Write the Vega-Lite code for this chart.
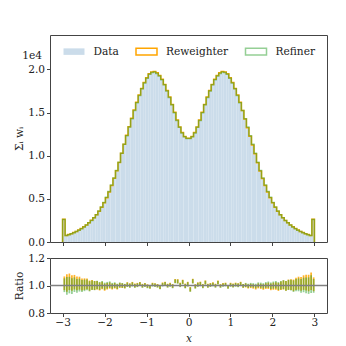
{
 "$schema": "https://vega.github.io/schema/vega-lite/v6.json",
 "background": "white",
 "padding": {"left": 14, "top": 34, "right": 18, "bottom": 5},
 "bounds": "flush",
 "spacing": 16,
 "config": {
  "font": "DejaVu Serif",
  "view": {"stroke": "#444", "strokeWidth": 1},
  "axis": {"domain": false, "grid": false, "tickColor": "#444", "tickSize": 3.5, "labelFont": "DejaVu Serif", "labelFontSize": 10.6, "labelColor": "#222", "titleFont": "DejaVu Serif", "titleFontSize": 10.6, "titleFontWeight": "normal", "titleColor": "#222", "labelPadding": 2, "labelOverlap": false, "labelFlush": false}
 },
 "datasets": {"h": [
  {"k":-1,"lo":-3,"rw":0,"rf":0},
  {"k":0,"lo":-3,"hi":-2.94,"d":0.262,"rw":0.265,"rf":0.261,"rl":0.966,"rh":1.066,"fl":0.952,"fh":1.052},
  {"k":1,"lo":-2.94,"hi":-2.88,"d":0.074,"rw":0.076,"rf":0.074,"rl":0.954,"rh":1.082,"fl":0.933,"fh":1.061},
  {"k":2,"lo":-2.88,"hi":-2.82,"d":0.084,"rw":0.086,"rf":0.084,"rl":0.967,"rh":1.087,"fl":0.943,"fh":1.063},
  {"k":3,"lo":-2.82,"hi":-2.76,"d":0.095,"rw":0.097,"rf":0.095,"rl":0.961,"rh":1.075,"fl":0.938,"fh":1.052},
  {"k":4,"lo":-2.76,"hi":-2.70,"d":0.107,"rw":0.109,"rf":0.107,"rl":0.971,"rh":1.077,"fl":0.953,"fh":1.059},
  {"k":5,"lo":-2.70,"hi":-2.64,"d":0.121,"rw":0.123,"rf":0.121,"rl":0.965,"rh":1.065,"fl":0.948,"fh":1.048},
  {"k":6,"lo":-2.64,"hi":-2.58,"d":0.137,"rw":0.139,"rf":0.137,"rl":0.970,"rh":1.064,"fl":0.956,"fh":1.050},
  {"k":7,"lo":-2.58,"hi":-2.52,"d":0.155,"rw":0.157,"rf":0.155,"rl":0.963,"rh":1.051,"fl":0.952,"fh":1.040},
  {"k":8,"lo":-2.52,"hi":-2.46,"d":0.175,"rw":0.177,"rf":0.175,"rl":0.968,"rh":1.052,"fl":0.959,"fh":1.043},
  {"k":9,"lo":-2.46,"hi":-2.40,"d":0.197,"rw":0.198,"rf":0.197,"rl":0.973,"rh":1.051,"fl":0.966,"fh":1.044},
  {"k":10,"lo":-2.40,"hi":-2.34,"d":0.222,"rw":0.223,"rf":0.222,"rl":0.962,"rh":1.036,"fl":0.957,"fh":1.031},
  {"k":11,"lo":-2.34,"hi":-2.28,"d":0.250,"rw":0.251,"rf":0.250,"rl":0.970,"rh":1.040,"fl":0.967,"fh":1.037},
  {"k":12,"lo":-2.28,"hi":-2.22,"d":0.281,"rw":0.281,"rf":0.281,"rl":0.967,"rh":1.033,"fl":0.966,"fh":1.032},
  {"k":13,"lo":-2.22,"hi":-2.16,"d":0.317,"rw":0.316,"rf":0.317,"rl":0.971,"rh":1.033,"fl":0.973,"fh":1.035},
  {"k":14,"lo":-2.16,"hi":-2.10,"d":0.358,"rw":0.357,"rf":0.358,"rl":0.964,"rh":1.022,"fl":0.968,"fh":1.026},
  {"k":15,"lo":-2.10,"hi":-2.04,"d":0.405,"rw":0.403,"rf":0.405,"rl":0.973,"rh":1.027,"fl":0.979,"fh":1.033},
  {"k":16,"lo":-2.04,"hi":-1.98,"d":0.458,"rw":0.455,"rf":0.458,"rl":0.962,"rh":1.014,"fl":0.969,"fh":1.021},
  {"k":17,"lo":-1.98,"hi":-1.92,"d":0.518,"rw":0.514,"rf":0.518,"rl":0.971,"rh":1.019,"fl":0.978,"fh":1.026},
  {"k":18,"lo":-1.92,"hi":-1.86,"d":0.585,"rw":0.581,"rf":0.585,"rl":0.977,"rh":1.023,"fl":0.984,"fh":1.030},
  {"k":19,"lo":-1.86,"hi":-1.80,"d":0.660,"rw":0.656,"rf":0.660,"rl":0.971,"rh":1.013,"fl":0.977,"fh":1.019},
  {"k":20,"lo":-1.80,"hi":-1.74,"d":0.742,"rw":0.738,"rf":0.742,"rl":0.978,"rh":1.018,"fl":0.983,"fh":1.023},
  {"k":21,"lo":-1.74,"hi":-1.68,"d":0.830,"rw":0.827,"rf":0.830,"rl":0.971,"rh":1.009,"fl":0.975,"fh":1.013},
  {"k":22,"lo":-1.68,"hi":-1.62,"d":0.925,"rw":0.922,"rf":0.925,"rl":0.983,"rh":1.019,"fl":0.986,"fh":1.022},
  {"k":23,"lo":-1.62,"hi":-1.56,"d":1.030,"rw":1.028,"rf":1.030,"rl":0.982,"rh":1.016,"fl":0.984,"fh":1.018},
  {"k":24,"lo":-1.56,"hi":-1.50,"d":1.134,"rw":1.133,"rf":1.134,"rl":0.979,"rh":1.011,"fl":0.980,"fh":1.012},
  {"k":25,"lo":-1.50,"hi":-1.44,"d":1.233,"rw":1.237,"rf":1.233,"rl":0.992,"rh":1.024,"fl":0.989,"fh":1.021},
  {"k":26,"lo":-1.44,"hi":-1.38,"d":1.332,"rw":1.336,"rf":1.332,"rl":0.986,"rh":1.016,"fl":0.983,"fh":1.013},
  {"k":27,"lo":-1.38,"hi":-1.32,"d":1.430,"rw":1.434,"rf":1.430,"rl":0.996,"rh":1.026,"fl":0.993,"fh":1.023},
  {"k":28,"lo":-1.32,"hi":-1.26,"d":1.525,"rw":1.530,"rf":1.525,"rl":0.986,"rh":1.014,"fl":0.983,"fh":1.011},
  {"k":29,"lo":-1.26,"hi":-1.20,"d":1.615,"rw":1.620,"rf":1.615,"rl":0.991,"rh":1.019,"fl":0.988,"fh":1.016},
  {"k":30,"lo":-1.20,"hi":-1.14,"d":1.700,"rw":1.705,"rf":1.700,"rl":1.000,"rh":1.026,"fl":0.997,"fh":1.023},
  {"k":31,"lo":-1.14,"hi":-1.08,"d":1.776,"rw":1.781,"rf":1.776,"rl":0.986,"rh":1.012,"fl":0.983,"fh":1.009},
  {"k":32,"lo":-1.08,"hi":-1.02,"d":1.843,"rw":1.849,"rf":1.843,"rl":0.993,"rh":1.019,"fl":0.990,"fh":1.016},
  {"k":33,"lo":-1.02,"hi":-0.96,"d":1.898,"rw":1.904,"rf":1.898,"rl":0.983,"rh":1.009,"fl":0.980,"fh":1.006},
  {"k":34,"lo":-0.96,"hi":-0.90,"d":1.945,"rw":1.951,"rf":1.945,"rl":0.979,"rh":1.003,"fl":0.976,"fh":1.000},
  {"k":35,"lo":-0.90,"hi":-0.84,"d":1.966,"rw":1.972,"rf":1.966,"rl":0.996,"rh":1.020,"fl":0.993,"fh":1.017},
  {"k":36,"lo":-0.84,"hi":-0.78,"d":1.970,"rw":1.976,"rf":1.970,"rl":0.993,"rh":1.017,"fl":0.990,"fh":1.014},
  {"k":37,"lo":-0.78,"hi":-0.72,"d":1.955,"rw":1.961,"rf":1.955,"rl":0.987,"rh":1.011,"fl":0.984,"fh":1.008},
  {"k":38,"lo":-0.72,"hi":-0.66,"d":1.925,"rw":1.931,"rf":1.925,"rl":0.975,"rh":1.001,"fl":0.972,"fh":0.998},
  {"k":39,"lo":-0.66,"hi":-0.60,"d":1.880,"rw":1.886,"rf":1.880,"rl":0.996,"rh":1.022,"fl":0.993,"fh":1.019},
  {"k":40,"lo":-0.60,"hi":-0.54,"d":1.822,"rw":1.827,"rf":1.822,"rl":1.002,"rh":1.028,"fl":0.999,"fh":1.025},
  {"k":41,"lo":-0.54,"hi":-0.48,"d":1.752,"rw":1.757,"rf":1.752,"rl":0.987,"rh":1.013,"fl":0.984,"fh":1.010},
  {"k":42,"lo":-0.48,"hi":-0.42,"d":1.675,"rw":1.680,"rf":1.675,"rl":0.994,"rh":1.020,"fl":0.991,"fh":1.017},
  {"k":43,"lo":-0.42,"hi":-0.36,"d":1.590,"rw":1.595,"rf":1.590,"rl":0.983,"rh":1.011,"fl":0.980,"fh":1.008},
  {"k":44,"lo":-0.36,"hi":-0.30,"d":1.500,"rw":1.505,"rf":1.500,"rl":1.019,"rh":1.047,"fl":1.016,"fh":1.044},
  {"k":45,"lo":-0.30,"hi":-0.24,"d":1.410,"rw":1.414,"rf":1.410,"rl":1.016,"rh":1.046,"fl":1.013,"fh":1.043},
  {"k":46,"lo":-0.24,"hi":-0.18,"d":1.330,"rw":1.334,"rf":1.330,"rl":0.991,"rh":1.021,"fl":0.988,"fh":1.018},
  {"k":47,"lo":-0.18,"hi":-0.12,"d":1.265,"rw":1.269,"rf":1.265,"rl":1.012,"rh":1.042,"fl":1.009,"fh":1.039},
  {"k":48,"lo":-0.12,"hi":-0.06,"d":1.220,"rw":1.224,"rf":1.220,"rl":0.982,"rh":1.014,"fl":0.979,"fh":1.011},
  {"k":49,"lo":-0.06,"hi":0,"d":1.200,"rw":1.204,"rf":1.200,"rl":0.995,"rh":1.027,"fl":0.992,"fh":1.024},
  {"k":50,"lo":0,"hi":0.06,"d":1.200,"rw":1.204,"rf":1.200,"rl":0.957,"rh":0.989,"fl":0.954,"fh":0.986},
  {"k":51,"lo":0.06,"hi":0.12,"d":1.220,"rw":1.224,"rf":1.220,"rl":1.017,"rh":1.049,"fl":1.014,"fh":1.046},
  {"k":52,"lo":0.12,"hi":0.18,"d":1.265,"rw":1.269,"rf":1.265,"rl":0.980,"rh":1.010,"fl":0.977,"fh":1.007},
  {"k":53,"lo":0.18,"hi":0.24,"d":1.330,"rw":1.334,"rf":1.330,"rl":0.993,"rh":1.023,"fl":0.990,"fh":1.020},
  {"k":54,"lo":0.24,"hi":0.30,"d":1.410,"rw":1.414,"rf":1.410,"rl":0.998,"rh":1.028,"fl":0.995,"fh":1.025},
  {"k":55,"lo":0.30,"hi":0.36,"d":1.500,"rw":1.505,"rf":1.500,"rl":0.983,"rh":1.011,"fl":0.980,"fh":1.008},
  {"k":56,"lo":0.36,"hi":0.42,"d":1.590,"rw":1.595,"rf":1.590,"rl":1.009,"rh":1.037,"fl":1.006,"fh":1.034},
  {"k":57,"lo":0.42,"hi":0.48,"d":1.675,"rw":1.680,"rf":1.675,"rl":0.986,"rh":1.012,"fl":0.983,"fh":1.009},
  {"k":58,"lo":0.48,"hi":0.54,"d":1.752,"rw":1.757,"rf":1.752,"rl":0.992,"rh":1.018,"fl":0.989,"fh":1.015},
  {"k":59,"lo":0.54,"hi":0.60,"d":1.822,"rw":1.827,"rf":1.822,"rl":0.997,"rh":1.023,"fl":0.994,"fh":1.020},
  {"k":60,"lo":0.60,"hi":0.66,"d":1.880,"rw":1.886,"rf":1.880,"rl":0.987,"rh":1.013,"fl":0.984,"fh":1.010},
  {"k":61,"lo":0.66,"hi":0.72,"d":1.925,"rw":1.931,"rf":1.925,"rl":1.010,"rh":1.036,"fl":1.007,"fh":1.033},
  {"k":62,"lo":0.72,"hi":0.78,"d":1.955,"rw":1.961,"rf":1.955,"rl":0.986,"rh":1.010,"fl":0.983,"fh":1.007},
  {"k":63,"lo":0.78,"hi":0.84,"d":1.970,"rw":1.976,"rf":1.970,"rl":0.994,"rh":1.018,"fl":0.991,"fh":1.015},
  {"k":64,"lo":0.84,"hi":0.90,"d":1.966,"rw":1.972,"rf":1.966,"rl":0.997,"rh":1.021,"fl":0.994,"fh":1.018},
  {"k":65,"lo":0.90,"hi":0.96,"d":1.945,"rw":1.951,"rf":1.945,"rl":0.979,"rh":1.003,"fl":0.976,"fh":1.000},
  {"k":66,"lo":0.96,"hi":1.02,"d":1.898,"rw":1.904,"rf":1.898,"rl":0.994,"rh":1.020,"fl":0.991,"fh":1.017},
  {"k":67,"lo":1.02,"hi":1.08,"d":1.843,"rw":1.849,"rf":1.843,"rl":0.988,"rh":1.014,"fl":0.985,"fh":1.011},
  {"k":68,"lo":1.08,"hi":1.14,"d":1.776,"rw":1.781,"rf":1.776,"rl":0.995,"rh":1.021,"fl":0.992,"fh":1.018},
  {"k":69,"lo":1.14,"hi":1.20,"d":1.700,"rw":1.705,"rf":1.700,"rl":0.991,"rh":1.017,"fl":0.988,"fh":1.014},
  {"k":70,"lo":1.20,"hi":1.26,"d":1.615,"rw":1.620,"rf":1.615,"rl":0.999,"rh":1.027,"fl":0.996,"fh":1.024},
  {"k":71,"lo":1.26,"hi":1.32,"d":1.525,"rw":1.525,"rf":1.525,"rl":0.983,"rh":1.011,"fl":0.983,"fh":1.011},
  {"k":72,"lo":1.32,"hi":1.38,"d":1.430,"rw":1.426,"rf":1.430,"rl":0.986,"rh":1.016,"fl":0.989,"fh":1.019},
  {"k":73,"lo":1.38,"hi":1.44,"d":1.332,"rw":1.325,"rf":1.332,"rl":0.978,"rh":1.008,"fl":0.983,"fh":1.013},
  {"k":74,"lo":1.44,"hi":1.50,"d":1.233,"rw":1.226,"rf":1.233,"rl":0.981,"rh":1.013,"fl":0.987,"fh":1.019},
  {"k":75,"lo":1.50,"hi":1.56,"d":1.134,"rw":1.125,"rf":1.134,"rl":0.977,"rh":1.009,"fl":0.985,"fh":1.017},
  {"k":76,"lo":1.56,"hi":1.62,"d":1.030,"rw":1.022,"rf":1.030,"rl":0.971,"rh":1.005,"fl":0.979,"fh":1.013},
  {"k":77,"lo":1.62,"hi":1.68,"d":0.925,"rw":0.918,"rf":0.925,"rl":0.979,"rh":1.015,"fl":0.987,"fh":1.023},
  {"k":78,"lo":1.68,"hi":1.74,"d":0.830,"rw":0.823,"rf":0.830,"rl":0.975,"rh":1.013,"fl":0.983,"fh":1.021},
  {"k":79,"lo":1.74,"hi":1.80,"d":0.742,"rw":0.736,"rf":0.742,"rl":0.969,"rh":1.009,"fl":0.977,"fh":1.017},
  {"k":80,"lo":1.80,"hi":1.86,"d":0.660,"rw":0.655,"rf":0.660,"rl":0.975,"rh":1.017,"fl":0.983,"fh":1.025},
  {"k":81,"lo":1.86,"hi":1.92,"d":0.585,"rw":0.580,"rf":0.585,"rl":0.975,"rh":1.021,"fl":0.983,"fh":1.029},
  {"k":82,"lo":1.92,"hi":1.98,"d":0.518,"rw":0.514,"rf":0.518,"rl":0.966,"rh":1.014,"fl":0.974,"fh":1.022},
  {"k":83,"lo":1.98,"hi":2.04,"d":0.458,"rw":0.454,"rf":0.458,"rl":0.969,"rh":1.021,"fl":0.977,"fh":1.029},
  {"k":84,"lo":2.04,"hi":2.10,"d":0.405,"rw":0.402,"rf":0.405,"rl":0.970,"rh":1.024,"fl":0.978,"fh":1.032},
  {"k":85,"lo":2.10,"hi":2.16,"d":0.358,"rw":0.356,"rf":0.358,"rl":0.961,"rh":1.019,"fl":0.967,"fh":1.025},
  {"k":86,"lo":2.16,"hi":2.22,"d":0.317,"rw":0.316,"rf":0.317,"rl":0.967,"rh":1.029,"fl":0.971,"fh":1.033},
  {"k":87,"lo":2.22,"hi":2.28,"d":0.281,"rw":0.280,"rf":0.281,"rl":0.971,"rh":1.037,"fl":0.973,"fh":1.039},
  {"k":88,"lo":2.28,"hi":2.34,"d":0.250,"rw":0.250,"rf":0.250,"rl":0.962,"rh":1.032,"fl":0.962,"fh":1.032},
  {"k":89,"lo":2.34,"hi":2.40,"d":0.222,"rw":0.222,"rf":0.222,"rl":0.969,"rh":1.043,"fl":0.967,"fh":1.041},
  {"k":90,"lo":2.40,"hi":2.46,"d":0.197,"rw":0.198,"rf":0.197,"rl":0.967,"rh":1.045,"fl":0.963,"fh":1.041},
  {"k":91,"lo":2.46,"hi":2.52,"d":0.175,"rw":0.176,"rf":0.175,"rl":0.959,"rh":1.043,"fl":0.953,"fh":1.037},
  {"k":92,"lo":2.52,"hi":2.58,"d":0.155,"rw":0.156,"rf":0.155,"rl":0.968,"rh":1.056,"fl":0.959,"fh":1.047},
  {"k":93,"lo":2.58,"hi":2.64,"d":0.137,"rw":0.139,"rf":0.137,"rl":0.970,"rh":1.064,"fl":0.958,"fh":1.052},
  {"k":94,"lo":2.64,"hi":2.70,"d":0.121,"rw":0.123,"rf":0.121,"rl":0.962,"rh":1.062,"fl":0.948,"fh":1.048},
  {"k":95,"lo":2.70,"hi":2.76,"d":0.107,"rw":0.109,"rf":0.107,"rl":0.968,"rh":1.074,"fl":0.951,"fh":1.057},
  {"k":96,"lo":2.76,"hi":2.82,"d":0.095,"rw":0.097,"rf":0.095,"rl":0.964,"rh":1.078,"fl":0.944,"fh":1.058},
  {"k":97,"lo":2.82,"hi":2.88,"d":0.084,"rw":0.086,"rf":0.084,"rl":0.958,"rh":1.078,"fl":0.939,"fh":1.059},
  {"k":98,"lo":2.88,"hi":2.94,"d":0.074,"rw":0.076,"rf":0.074,"rl":0.967,"rh":1.095,"fl":0.946,"fh":1.074},
  {"k":99,"lo":2.94,"hi":3,"d":0.262,"rw":0.265,"rf":0.262,"rl":0.959,"rh":1.059,"fl":0.947,"fh":1.047},
  {"k":100,"lo":3,"rw":0,"rf":0}
 ]},
 "vconcat": [
  {
   "width": 277,
   "height": 207,
   "data": {"name": "h"},
   "layer": [
    {
     "transform": [{"filter": "isValid(datum.hi)"}],
     "mark": {"type": "rect", "fill": "#cbdcea", "stroke": null},
     "encoding": {
      "x": {"field": "lo", "type": "quantitative", "scale": {"domain": [-3.3, 3.3], "nice": false, "zero": false}, "axis": {"values": [-3, -2, -1, 0, 1, 2, 3], "tickCount": 10, "labels": false, "title": null}},
      "x2": {"field": "hi"},
      "y": {"field": "d", "type": "quantitative", "scale": {"domain": [0, 2.4], "nice": false}, "axis": {"values": [0, 0.5, 1, 1.5, 2], "tickCount": 10, "format": ".1f", "title": "Σᵢ wᵢ", "titlePadding": 3, "labelOverlap": false}},
      "y2": {"datum": 0}
     }
    },
    {
     "mark": {"type": "line", "interpolate": "step-after", "stroke": "#ffa500", "strokeWidth": 1.5},
     "encoding": {
      "x": {"field": "lo", "type": "quantitative"},
      "y": {"field": "rw", "type": "quantitative"},
      "order": {"field": "k"}
     }
    },
    {
     "mark": {"type": "line", "interpolate": "step-after", "stroke": "#2ca02c", "strokeOpacity": 0.5, "strokeWidth": 1.5},
     "encoding": {
      "x": {"field": "lo", "type": "quantitative"},
      "y": {"field": "rf", "type": "quantitative"},
      "order": {"field": "k"}
     }
    },
    {
     "data": {"values": [{"s": "Data"}, {"s": "Reweighter"}, {"s": "Refiner"}]},
     "mark": {"type": "rect"},
     "encoding": {
      "x": {"datum": -3.3, "type": "quantitative"},
      "x2": {"datum": -3.3},
      "y": {"datum": 0, "type": "quantitative"},
      "y2": {"datum": 0},
      "fill": {
       "field": "s", "type": "nominal",
       "scale": {"domain": ["Data", "Reweighter", "Refiner"], "range": ["#cbdcea", "#ffffff", "#ffffff"]},
       "legend": {
        "title": null, "orient": "none", "legendX": 12.5, "legendY": 5, "direction": "horizontal", "padding": 0,
        "symbolType": "M-1,-0.31H1V0.31H-1Z", "symbolSize": 441, "symbolStrokeWidth": 1.5,
        "labelFont": "DejaVu Serif", "labelFontSize": 10.6, "labelColor": "#222", "labelOffset": 8, "columnPadding": 13.5,
        "encode": {"symbols": {"update": {
         "stroke": {"signal": "datum.value === 'Reweighter' ? '#ffa500' : (datum.value === 'Refiner' ? '#95cf95' : 'transparent')"},
         "strokeWidth": {"value": 1.5}
        }}}
       }
      }
     }
    },
    {
     "data": {"values": [{"t": "1e4"}]},
     "mark": {"type": "text", "align": "right", "baseline": "middle", "dx": -8, "fontSize": 10.6, "font": "DejaVu Serif", "color": "#222"},
     "encoding": {
      "x": {"datum": -3.3, "type": "quantitative"},
      "y": {"datum": 2.16, "type": "quantitative"},
      "text": {"field": "t"}
     }
    }
   ]
  },
  {
   "width": 277,
   "height": 55,
   "data": {"name": "h"},
   "transform": [{"filter": "isValid(datum.hi)"}],
   "layer": [
    {
     "mark": {"type": "bar", "color": "#ffa500", "opacity": 0.85, "binSpacing": 0.8},
     "encoding": {
      "x": {"field": "lo", "type": "quantitative", "bin": "binned", "scale": {"domain": [-3.3, 3.3], "nice": false, "zero": false}, "axis": {"values": [-3, -2, -1, 0, 1, 2, 3], "tickCount": 10, "format": "d", "title": "x", "titleFontStyle": "italic", "titlePadding": 5, "labelPadding": 1, "labelOverlap": false}},
      "x2": {"field": "hi"},
      "y": {"field": "rl", "type": "quantitative", "scale": {"domain": [0.8, 1.2], "nice": false, "zero": false}, "axis": {"values": [0.8, 1, 1.2], "tickCount": 5, "format": ".1f", "title": "Ratio", "titlePadding": 3, "labelOverlap": false}},
      "y2": {"field": "rh"}
     }
    },
    {
     "mark": {"type": "bar", "color": "#2ca02c", "opacity": 0.5, "binSpacing": 0.8},
     "encoding": {
      "x": {"field": "lo", "type": "quantitative", "bin": "binned"},
      "x2": {"field": "hi"},
      "y": {"field": "fl", "type": "quantitative"},
      "y2": {"field": "fh"}
     }
    },
    {
     "data": {"values": [{"v": 1}]},
     "mark": {"type": "rule", "color": "#808080", "strokeWidth": 1.3},
     "encoding": {"y": {"datum": 1, "type": "quantitative"}}
    }
   ]
  }
 ]
}
